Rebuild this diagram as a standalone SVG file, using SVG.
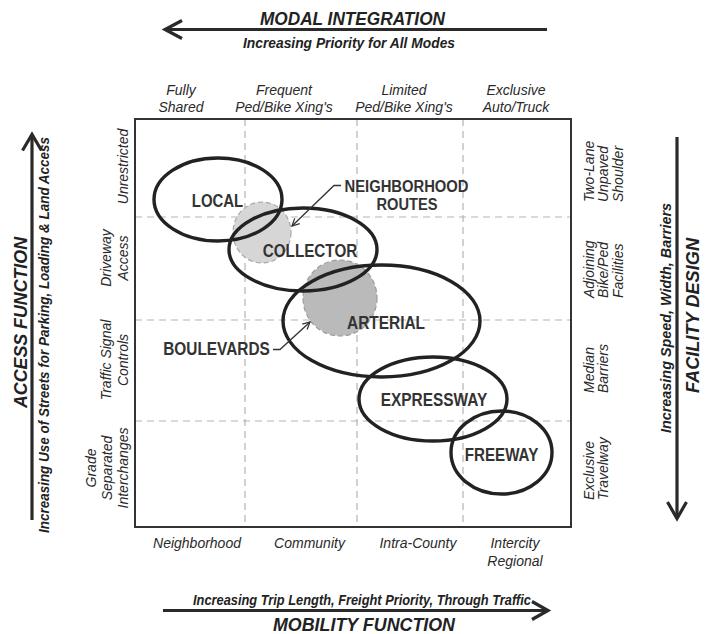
<svg xmlns="http://www.w3.org/2000/svg" width="713" height="634" viewBox="0 0 713 634">
<style>
  .t { font-family: "Liberation Sans", Arial, sans-serif; fill: #222; }
  .title { font-size: 19px; font-weight: bold; font-style: italic; text-anchor: middle; }
  .sub { font-size: 14px; font-weight: bold; font-style: italic; text-anchor: middle; }
  .lab { font-size: 14px; font-style: italic; text-anchor: middle; fill: #2a2a2a; }
  .labs { font-size: 14px; font-style: italic; text-anchor: start; fill: #2a2a2a; }
  .node { font-size: 18px; font-weight: bold; text-anchor: middle; fill: #333; }
  .node2 { font-size: 16px; font-weight: bold; text-anchor: middle; fill: #333; }
  .axis { stroke: #2a2a2a; stroke-width: 3.2; fill: none; stroke-linecap: butt; stroke-linejoin: miter; }
  .grid { stroke: #b4b4b4; stroke-width: 1.2; stroke-dasharray: 7 5; fill: none; }
  .ell { fill: none; stroke: #222; stroke-width: 3.4; }
  .lead { fill: none; stroke: #333; stroke-width: 1.3; }
</style>
<defs>
  <marker id="ah" viewBox="0 0 10 10" refX="9" refY="5" markerWidth="9" markerHeight="9" markerUnits="userSpaceOnUse" orient="auto">
    <path d="M1,1 L9,5 L1,9" fill="none" stroke="#333" stroke-width="1.4"/>
  </marker>
</defs>
<rect width="713" height="634" fill="#fff"/>

<!-- frame and grid -->
<g id="grid">
  <line class="grid" x1="245" y1="119" x2="245" y2="527"/>
  <line class="grid" x1="357" y1="119" x2="357" y2="527"/>
  <line class="grid" x1="463" y1="119" x2="463" y2="527"/>
  <line class="grid" x1="135" y1="217" x2="571" y2="217"/>
  <line class="grid" x1="135" y1="320" x2="571" y2="320"/>
  <line class="grid" x1="135" y1="421" x2="571" y2="421"/>
  <rect x="135" y="119" width="436" height="408" fill="none" stroke="#333" stroke-width="2"/>
</g>

<!-- top axis -->
<g id="modal-integration">
  <line class="axis" x1="166" y1="29.5" x2="547" y2="29.5"/>
  <polyline class="axis" points="182,20.5 165,29.5 182,38.5"/>
  <text class="t title" x="352.5" y="25" textLength="185" lengthAdjust="spacingAndGlyphs">MODAL INTEGRATION</text>
  <text class="t sub" x="349" y="48" textLength="212" lengthAdjust="spacingAndGlyphs">Increasing Priority for All Modes</text>
</g>

<g id="column-headers">
  <text class="t lab" x="181" y="95">Fully</text>
  <text class="t lab" x="181" y="112">Shared</text>
  <text class="t lab" x="284" y="95">Frequent</text>
  <text class="t lab" x="284" y="112">Ped/Bike Xing's</text>
  <text class="t lab" x="404" y="95">Limited</text>
  <text class="t lab" x="404" y="112">Ped/Bike Xing's</text>
  <text class="t lab" x="516" y="95">Exclusive</text>
  <text class="t lab" x="516" y="112">Auto/Truck</text>
</g>

<!-- left axis -->
<g id="access-function">
  <line class="axis" x1="32" y1="136" x2="32" y2="520"/>
  <polyline class="axis" points="22.5,150.5 32,134.5 41.5,150.5"/>
  <text class="t title" transform="translate(27,322.5) rotate(-90)" textLength="171" lengthAdjust="spacingAndGlyphs">ACCESS FUNCTION</text>
  <text class="t sub" transform="translate(49,335) rotate(-90)" textLength="396" lengthAdjust="spacingAndGlyphs">Increasing Use of Streets for Parking, Loading &amp; Land Access</text>
</g>

<g id="row-labels-left">
  <text class="t lab" transform="translate(127.5,166.5) rotate(-90)">Unrestricted</text>
  <text class="t lab" transform="translate(111,258) rotate(-90)">Driveway</text>
  <text class="t lab" transform="translate(127.5,258) rotate(-90)">Access</text>
  <text class="t lab" transform="translate(111,360) rotate(-90)">Traffic Signal</text>
  <text class="t lab" transform="translate(127.5,360) rotate(-90)">Controls</text>
  <text class="t lab" transform="translate(95.5,468) rotate(-90)">Grade</text>
  <text class="t lab" transform="translate(111.5,468) rotate(-90)">Separated</text>
  <text class="t lab" transform="translate(127.5,468) rotate(-90)">Interchanges</text>
</g>

<!-- right axis -->
<g id="facility-design">
  <line class="axis" x1="677" y1="137" x2="677" y2="517"/>
  <polyline class="axis" points="667.5,502 677,518.5 686.5,502"/>
  <text class="t sub" transform="translate(671,318) rotate(-90)" textLength="230" lengthAdjust="spacingAndGlyphs">Increasing Speed, Width, Barriers</text>
  <text class="t title" transform="translate(698.5,315.5) rotate(-90)" textLength="155" lengthAdjust="spacingAndGlyphs">FACILITY DESIGN</text>
</g>

<g id="row-labels-right">
  <text class="t labs" transform="translate(593.5,202) rotate(-90)">Two-Lane</text>
  <text class="t labs" transform="translate(608,202) rotate(-90)">Unpaved</text>
  <text class="t labs" transform="translate(622.5,202) rotate(-90)">Shoulder</text>
  <text class="t labs" transform="translate(593.5,298) rotate(-90)">Adjoining</text>
  <text class="t labs" transform="translate(608,298) rotate(-90)">Bike/Ped</text>
  <text class="t labs" transform="translate(622.5,298) rotate(-90)">Facilities</text>
  <text class="t labs" transform="translate(593.5,393) rotate(-90)">Median</text>
  <text class="t labs" transform="translate(608,393) rotate(-90)">Barriers</text>
  <text class="t labs" transform="translate(593.5,500) rotate(-90)">Exclusive</text>
  <text class="t labs" transform="translate(608,500) rotate(-90)">Travelway</text>
</g>

<!-- bottom axis -->
<g id="column-labels-bottom">
  <text class="t lab" x="197" y="548">Neighborhood</text>
  <text class="t lab" x="309.5" y="548">Community</text>
  <text class="t lab" x="418" y="548">Intra-County</text>
  <text class="t lab" x="515" y="548">Intercity</text>
  <text class="t lab" x="515" y="565.5">Regional</text>
</g>

<g id="mobility-function">
  <text class="t sub" x="362" y="605" textLength="338" lengthAdjust="spacingAndGlyphs">Increasing Trip Length, Freight Priority, Through Traffic</text>
  <line class="axis" x1="163" y1="610.5" x2="546" y2="610.5"/>
  <polyline class="axis" points="532,601.5 548,610.5 532,619.5"/>
  <text class="t title" x="364" y="631" textLength="182" lengthAdjust="spacingAndGlyphs">MOBILITY FUNCTION</text>
</g>

<!-- shaded overlap areas -->
<g id="neighborhood-routes-area">
  <ellipse cx="262" cy="232.5" rx="29" ry="30.5" fill="#d6d6d6" stroke="#a8a8a8" stroke-width="1.2" stroke-dasharray="5 3"/>
</g>
<g id="boulevards-area">
  <ellipse cx="340" cy="298" rx="37" ry="38" fill="#bababa" stroke="#9a9a9a" stroke-width="1.2" stroke-dasharray="5 3"/>
</g>

<!-- classification ellipses -->
<g id="local">
  <ellipse class="ell" cx="218" cy="199.5" rx="64" ry="41.5"/>
  <text class="t node" x="217.5" y="206.5" textLength="51.5" lengthAdjust="spacingAndGlyphs">LOCAL</text>
</g>
<g id="collector">
  <ellipse class="ell" cx="303" cy="249.5" rx="74" ry="41.5"/>
  <text class="t node" x="310" y="256.5" textLength="94.5" lengthAdjust="spacingAndGlyphs">COLLECTOR</text>
</g>
<g id="arterial">
  <ellipse class="ell" cx="381.5" cy="321" rx="98.5" ry="56"/>
  <text class="t node" x="386" y="329" textLength="78" lengthAdjust="spacingAndGlyphs">ARTERIAL</text>
</g>
<g id="expressway">
  <ellipse class="ell" cx="433" cy="399" rx="74" ry="42"/>
  <text class="t node" x="434" y="406" textLength="106.5" lengthAdjust="spacingAndGlyphs">EXPRESSWAY</text>
</g>
<g id="freeway">
  <ellipse class="ell" cx="501.5" cy="452.5" rx="50.5" ry="41.5"/>
  <text class="t node" x="501.5" y="461" textLength="73.5" lengthAdjust="spacingAndGlyphs">FREEWAY</text>
</g>

<g id="neighborhood-routes-label">
  <text class="t node2" x="406.5" y="191.5" textLength="124" lengthAdjust="spacingAndGlyphs">NEIGHBORHOOD</text>
  <text class="t node2" x="407" y="209.5" textLength="61" lengthAdjust="spacingAndGlyphs">ROUTES</text>
</g>
<g id="boulevards-label">
  <text class="t node" x="216.5" y="355" textLength="106.5" lengthAdjust="spacingAndGlyphs">BOULEVARDS</text>
</g>

<!-- leader connectors -->
<g id="connectors">
  <path class="lead" d="M341,185.5 L334,185.5 L292,226" marker-end="url(#ah)"/>
  <path class="lead" d="M273,349.5 L280,349.5 L310,322" marker-end="url(#ah)"/>
</g>
</svg>
